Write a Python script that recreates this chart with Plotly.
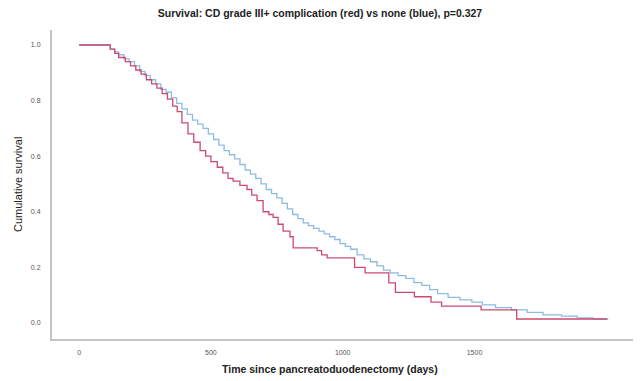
import plotly.graph_objects as go

# Kaplan-Meier estimates (days, cumulative survival)
none_days = [0, 118, 135, 150, 170, 190, 210, 230, 250, 270, 290, 310, 330, 350, 370, 390, 410, 430,
             450, 470, 490, 510, 530, 550, 570, 590, 610, 630, 650, 670, 690, 710, 730, 750, 770, 790,
             810, 830, 850, 870, 890, 910, 930, 950, 970, 990, 1010, 1030, 1055, 1080, 1105, 1130, 1155,
             1180, 1210, 1240, 1270, 1300, 1330, 1360, 1400, 1445, 1490, 1530, 1580, 1640, 1700, 1760,
             1830, 1890, 1950, 2005]
none_surv = [1.0, 0.985, 0.975, 0.965, 0.95, 0.94, 0.925, 0.905, 0.89, 0.875, 0.86, 0.84, 0.83, 0.81,
             0.79, 0.77, 0.75, 0.73, 0.715, 0.70, 0.68, 0.66, 0.64, 0.62, 0.605, 0.59, 0.57, 0.55, 0.535,
             0.52, 0.50, 0.48, 0.465, 0.45, 0.43, 0.41, 0.39, 0.375, 0.36, 0.35, 0.34, 0.33, 0.32, 0.31,
             0.30, 0.285, 0.275, 0.265, 0.245, 0.23, 0.22, 0.205, 0.19, 0.18, 0.17, 0.16, 0.145, 0.135,
             0.12, 0.105, 0.092, 0.083, 0.075, 0.065, 0.055, 0.047, 0.038, 0.029, 0.024, 0.018, 0.014, 0.01]

comp_days = [0, 118, 135, 150, 175, 195, 215, 235, 255, 275, 295, 315, 335, 355, 372, 390, 413, 435,
             459, 480, 500, 524, 545, 565, 584, 610, 637, 655, 675, 698, 720, 736, 755, 774, 800, 812,
             903, 920, 941, 1045, 1085, 1175, 1200, 1272, 1335, 1375, 1525, 1660, 2003]
comp_surv = [1.0, 0.985, 0.97, 0.955, 0.94, 0.925, 0.91, 0.895, 0.875, 0.86, 0.845, 0.825, 0.805, 0.78,
             0.76, 0.72, 0.68, 0.65, 0.62, 0.60, 0.58, 0.56, 0.54, 0.52, 0.51, 0.495, 0.48, 0.46, 0.44,
             0.40, 0.39, 0.38, 0.355, 0.33, 0.31, 0.27, 0.26, 0.245, 0.234, 0.20, 0.18, 0.144, 0.11,
             0.094, 0.075, 0.06, 0.047, 0.014, 0.014]

x_ticks = [0, 500, 1000, 1500]
y_ticks = [0.0, 0.2, 0.4, 0.6, 0.8, 1.0]

fig = go.Figure()
fig.add_trace(go.Scatter(x=none_days, y=none_surv, mode="lines", line=dict(color="#8dbbe2", width=1.3, shape="hv"),
                         name="none", showlegend=False))
fig.add_trace(go.Scatter(x=comp_days, y=comp_surv, mode="lines", line=dict(color="#cc4a70", width=1.3, shape="hv"),
                         name="CD grade III+", showlegend=False))

W, H = 633, 373  # page body adds an 8px offset
axis_font = dict(family="Liberation Sans, Arial, sans-serif", size=7, color="#555555")
fig.update_layout(
    width=W, height=H,
    margin=dict(l=44, r=1, t=22, b=42),
    paper_bgcolor="white", plot_bgcolor="white",
    title=dict(text="<b>Survival: CD grade III+ complication (red) vs none (blue), p=0.327</b>",
               x=(320 - 8) / W, xanchor="center", y=1 - (13 - 8) / H, yanchor="middle",
               font=dict(family="Liberation Sans, Arial, sans-serif", size=10.5, color="#222222")),
    xaxis=dict(range=[-103, 2128], tickvals=x_ticks, ticktext=[str(v) for v in x_ticks],
               showgrid=False, zeroline=False, showline=True, linecolor="#c4c4c4", linewidth=2,
               ticks="", tickfont=axis_font, ticklabelstandoff=6),
    yaxis=dict(range=[-0.058, 1.054], tickvals=y_ticks, ticktext=[f"{v:.1f}" for v in y_ticks],
               showgrid=False, zeroline=False, showline=True, linecolor="#c4c4c4", linewidth=2,
               ticks="", tickfont=axis_font, ticklabelstandoff=8),
    annotations=[
        dict(text="<b>Time since pancreatoduodenectomy (days)</b>", xref="paper", yref="paper",
             x=(330 - 52) / 588, y=(339 - 369) / 309, xanchor="center", yanchor="middle", showarrow=False,
             font=dict(family="Liberation Sans, Arial, sans-serif", size=10.5, color="#222222")),
        dict(text="Cumulative survival", xref="paper", yref="paper", textangle=-90,
             x=(18 - 52) / 588, y=(339 - 185) / 309, xanchor="center", yanchor="middle", showarrow=False,
             font=dict(family="Liberation Sans, Arial, sans-serif", size=11, color="#222222")),
    ],
)

fig.write_html("out.html")
